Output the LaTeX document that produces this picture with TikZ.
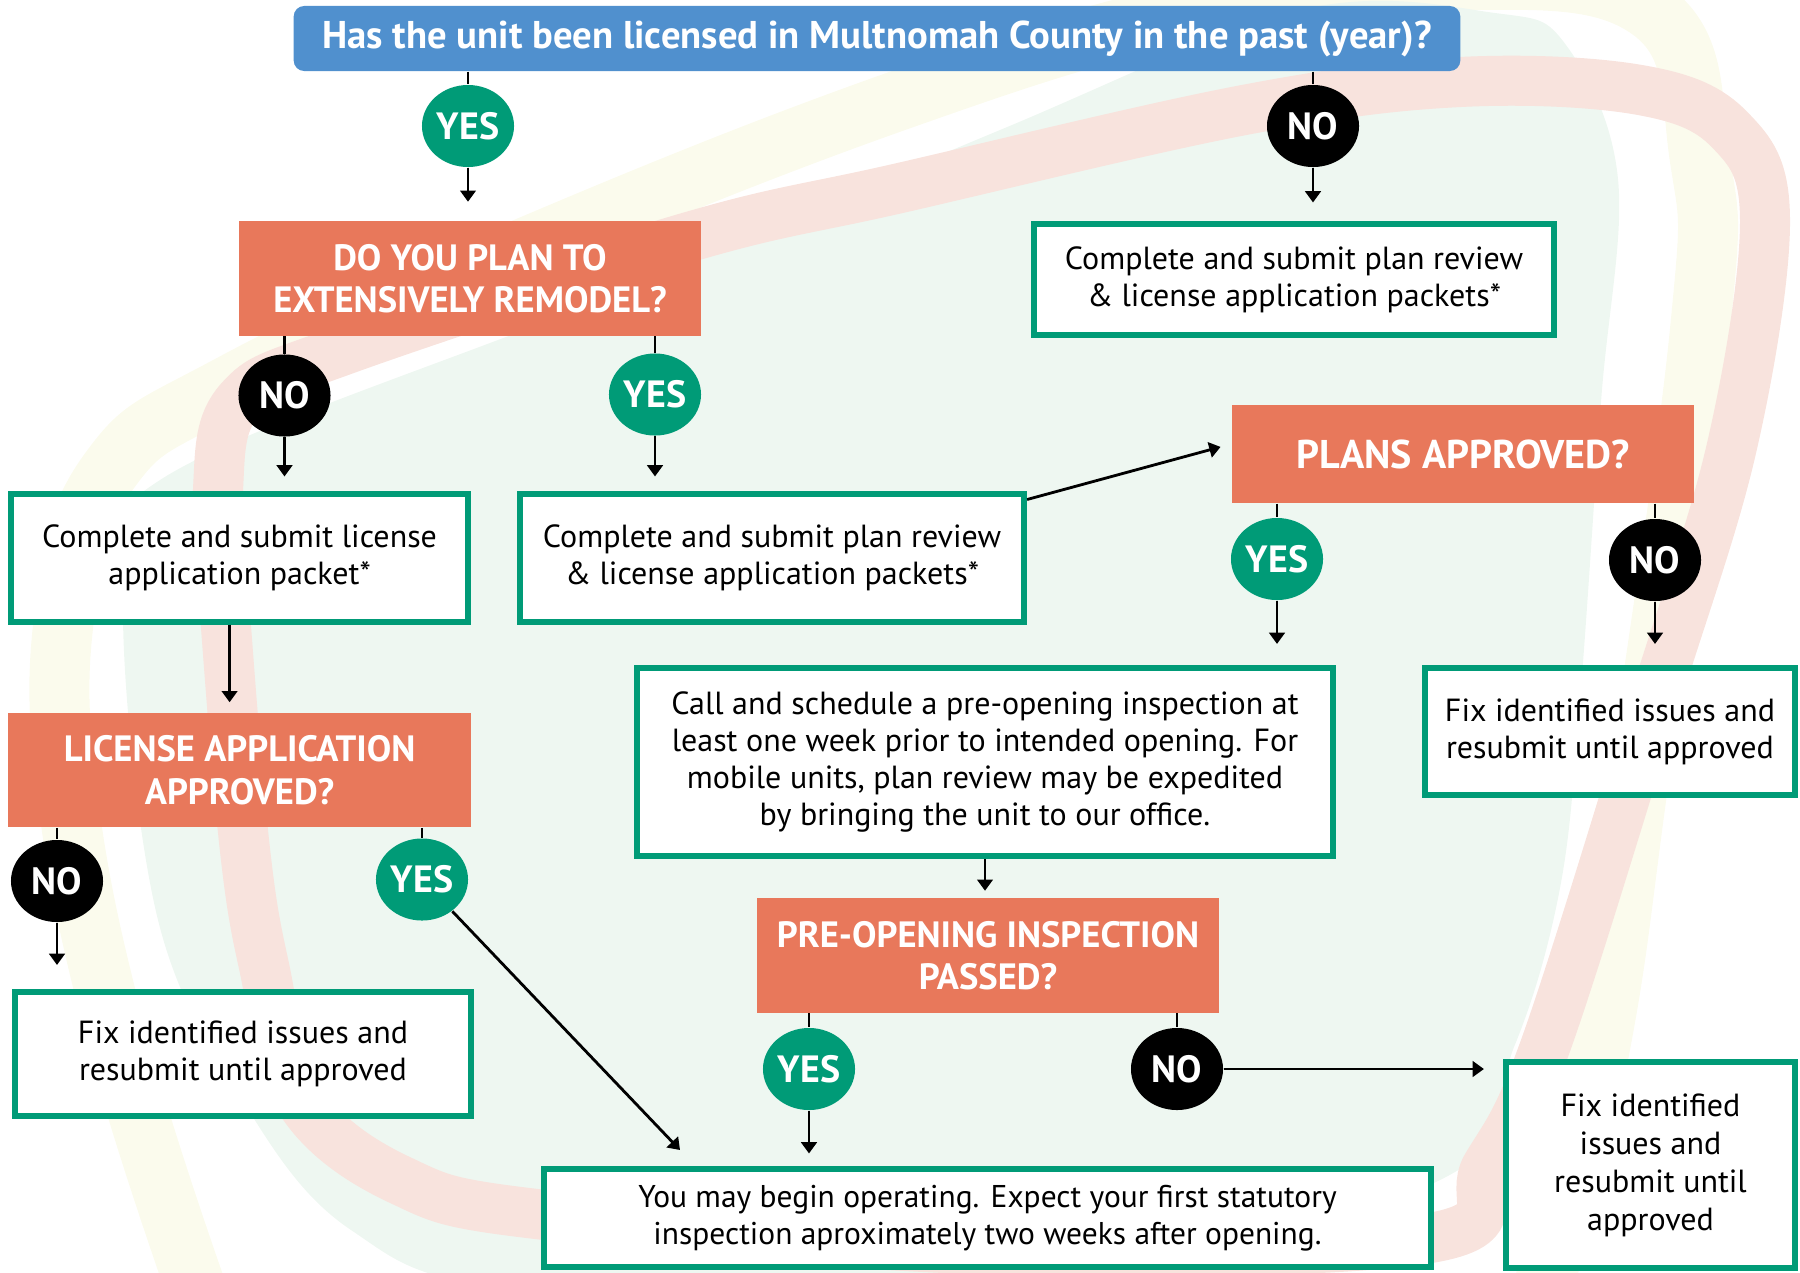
\documentclass[tikz,border=0pt]{standalone}
\usepackage{fontspec}
\setmainfont{PT Sans}
\usetikzlibrary{shapes.geometric,arrows.meta,positioning}

\definecolor{bannerblue}{RGB}{80,144,206}
\definecolor{qorange}{RGB}{232,120,91}
\definecolor{okgreen}{RGB}{0,155,119}
\definecolor{bggreen}{RGB}{238,247,241}
\definecolor{bgpink}{RGB}{248,227,221}
\definecolor{bgyellow}{RGB}{251,251,237}

\tikzset{
  banner/.style={fill=bannerblue, text=white, rounded corners=3pt,
    font=\bfseries\fontsize{11}{13}\selectfont, minimum width=11.66cm, minimum height=0.65cm},
  question/.style={fill=qorange, text=white, align=center, inner sep=0pt,
    font=\bfseries\fontsize{10.4}{12.1}\selectfont, minimum width=4.62cm},
  action/.style={draw=okgreen, line width=1.7pt, fill=white, align=center, inner sep=0pt,
    font=\fontsize{9.1}{10.6}\selectfont},
  yesoval/.style={ellipse, fill=okgreen, text=white, inner sep=0pt,
    font=\bfseries\fontsize{10.8}{12}\selectfont, minimum width=0.92cm, minimum height=0.82cm},
  nooval/.style={yesoval, fill=black},
  link/.style={line width=0.8pt},
  arr/.style={link, -{Triangle[length=3.2pt,width=4.4pt]}}
}

\begin{document}
\begin{tikzpicture}[x=0.01cm,y=-0.01cm]
\useasboundingbox (0,0) rectangle (1800,1272);

% background swirls
\begin{scope}
\clip (0,0) rectangle (1800,1272);
\draw[bgyellow, line width=0.6cm] plot[smooth, tension=0.7] coordinates {(200,1300) (120,1050) (68,800) (65,610) (110,470) (230,385) (520,250) (900,100) (1200,10) (1450,-20) (1650,10) (1700,160) (1700,330) (1640,770) (1600,1047) (1540,1300)};
\fill[bggreen] plot[smooth cycle, tension=0.6] coordinates {(123,610) (158,920) (246,1106) (351,1230) (520,1290) (1000,1300) (1440,1180) (1514,1047) (1560,888) (1580,700) (1601,402) (1618,179) (1566,45) (1495,13) (1300,10) (1000,130) (600,300) (160,480)};
\draw[bgpink, line width=0.5cm] plot[smooth cycle, tension=0.6] coordinates {(218,490) (227,640) (245,850) (264,966) (300,1100) (400,1180) (545,1215) (1000,1250) (1430,1238) (1487,1166) (1545,1047) (1655,700) (1732,446) (1765,220) (1730,130) (1640,90) (1460,82) (1244,110) (900,188) (689,237) (344,350) (240,400)};
\end{scope}

% top question
\node[banner] (past) at (877,38.5) {Has the unit been licensed in Multnomah County in the past (year)?};
\node[yesoval] (yes1) at (468,126) {YES};
\node[nooval] (no1) at (1313,126) {NO};

\node[question, minimum height=1.14cm] (remodel) at (470,278.5) {DO YOU PLAN TO\\EXTENSIVELY REMODEL?};
\node[action, minimum width=5.2cm, minimum height=1.1cm] (planA) at (1294,279.5) {Complete and submit plan review\\\& license application packets*};

\node[nooval] (no2) at (284.5,395.5) {NO};
\node[yesoval] (yes2) at (655,394.5) {YES};
\node[action, minimum width=4.56cm, minimum height=1.27cm] (licpack) at (239.6,558) {Complete and submit license\\application packet*};
\node[action, minimum width=5.04cm, minimum height=1.27cm] (planB) at (772,558) {Complete and submit plan review\\\& license application packets*};

\node[question, minimum height=0.98cm, font=\bfseries\fontsize{11.4}{13}\selectfont] (plans) at (1463,454) {PLANS APPROVED?};
\node[yesoval] (yes3) at (1277,559) {YES};
\node[nooval] (no3) at (1655,560) {NO};
\node[action, minimum width=3.7cm, minimum height=1.27cm] (fixR) at (1610,731.5) {Fix identified issues and\\resubmit until approved};
\node[action, minimum width=6.96cm, minimum height=1.88cm] (call) at (985,762) {Call and schedule a pre-opening inspection at\\least one week prior to intended opening. For\\mobile units, plan review may be expedited\\by bringing the unit to our office.};

\node[question, minimum height=1.14cm] (preopen) at (988,955.5) {PRE-OPENING INSPECTION\\PASSED?};
\node[yesoval] (yes4) at (809,1069) {YES};
\node[nooval] (no4) at (1177,1069) {NO};
\node[action, minimum width=8.87cm, minimum height=0.98cm, font=\fontsize{8.95}{10.6}\selectfont] (begin) at (987.5,1218) {You may begin operating. Expect your first statutory\\inspection aproximately two weeks after opening.};
\node[action, minimum width=2.89cm, minimum height=2.06cm, font=\fontsize{9.1}{10.8}\selectfont] (fixB) at (1650.5,1165) {Fix identified\\issues and\\resubmit until\\approved};

\node[question, minimum height=1.14cm] (licok) at (239.6,770) {LICENSE APPLICATION\\APPROVED?};
\node[nooval] (no5) at (57,881) {NO};
\node[yesoval] (yes5) at (422,879.5) {YES};
\node[action, minimum width=4.55cm, minimum height=1.24cm] (fixL) at (243,1054) {Fix identified issues and\\resubmit until approved};
\coordinate (tipA) at (680,1150);

% connectors
\draw[link] (past.south -| yes1) -- (yes1.north);
\draw[link] (past.south -| no1) -- (no1.north);
\draw[arr, shorten >=0.19cm] (yes1.south) -- (yes1.south |- remodel.north);
\draw[arr, shorten >=0.19cm] (no1.south) -- (no1.south |- planA.north);

\draw[link] (remodel.south -| no2) -- (no2.north);
\draw[link] (remodel.south -| yes2) -- (yes2.north);
\draw[arr, shorten >=0.15cm] (no2.south) -- (no2.south |- licpack.north);
\draw[arr, shorten >=0.15cm] (yes2.south) -- (yes2.south |- planB.north);
\draw[arr, shorten >=0.11cm] ([yshift=-0.08cm]planB.north east) -- ([yshift=0.1cm]plans.west);

\draw[link] (plans.south -| yes3) -- (yes3.north);
\draw[link] (plans.south -| no3) -- (no3.north);
\draw[arr, shorten >=0.21cm] (yes3.south) -- (yes3.south |- call.north);
\draw[arr, shorten >=0.21cm] (no3.south) -- (no3.south |- fixR.north);
\draw[arr, shorten >=0.07cm] (call.south) -- (call.south |- preopen.north);

\draw[link] (preopen.south -| yes4) -- (yes4.north);
\draw[link] (preopen.south -| no4) -- (no4.north);
\draw[arr, shorten >=0.125cm] (yes4.south) -- (yes4.south |- begin.north);
\draw[arr, shorten >=0.19cm] (no4.east) -- (no4.east -| fixB.west);

\draw[arr, shorten >=0.1cm] ([xshift=-0.1cm]licpack.south) -- ([xshift=-0.1cm]licpack.south |- licok.north);
\draw[link] (licok.south -| no5) -- (no5.north);
\draw[link] (licok.south -| yes5) -- (yes5.north);
\draw[arr, shorten >=0.24cm] (no5.south) -- (no5.south |- fixL.north);
\draw[arr] (yes5) -- (tipA);
\end{tikzpicture}
\end{document}
